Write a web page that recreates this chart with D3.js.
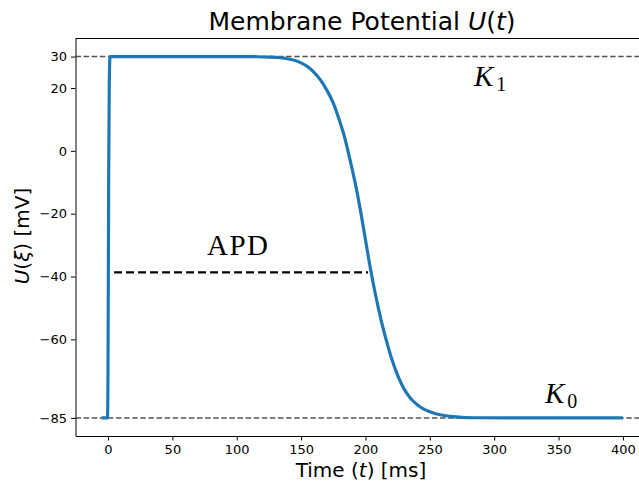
<!DOCTYPE html>
<html>
<head>
<meta charset="utf-8">
<script src="https://cdn.jsdelivr.net/npm/d3@7"></script>
<style>
  body { margin: 0; background: #fff; }
  text { font-family: "DejaVu Sans", sans-serif; }
</style>
</head>
<body>
<div id="chart"></div>
<script>
// membrane potential (t in ms, U in mV)
var timeMs = [-5, -0.4, 0, 0.5, 1, 1.6, 20, 60, 100, 115, 125, 132, 138, 144, 150, 155, 160, 165, 170, 175,
              180, 184, 188, 192, 196, 200, 204, 208, 212, 216, 220, 224, 228, 232, 236, 240,
              245, 250, 258, 266, 275, 290, 310, 340, 370, 400];
var voltage = [-85, -85, -70, -10, 22, 30, 30, 30, 30, 29.95, 29.85, 29.7, 29.4, 28.9, 28.0, 26.8, 25.0, 22.6, 19.3, 15.2,
               9.4, 4.0, -2.9, -10.2, -18.7, -28.3, -37.8, -46.2, -53.6, -60.0, -65.7, -70.4, -74.2, -77.1, -79.2, -80.7,
               -82.1, -83.0, -84.0, -84.5, -84.8, -84.95, -85, -85, -85, -85];

var yTicks = [30, 20, 0, -20, -40, -60, -85];
var xTicks = [0, 50, 100, 150, 200, 250, 300, 350, 400];
var levels = [30, -85];            // K1 and K0 reference lines
var apdStart = 4.7, apdEnd = 202, apdLevel = -38.7;

var width = 639, height = 483;
var margin = {left: 75.5, top: 38.5, right: -10, bottom: 47};

var svg = d3.select("#chart")
    .append("svg")
    .attr("width", width)
    .attr("height", height);

var x = d3.scaleLinear()
    .domain([-25.25, 420.25])
    .range([margin.left, width - margin.right]);
var y = d3.scaleLinear()
    .domain([-90.75, 35.75])
    .range([height - margin.bottom, margin.top]);

svg.append("defs").append("clipPath").attr("id", "plot")
    .append("rect")
    .attr("x", margin.left).attr("y", margin.top)
    .attr("width", width - margin.right - margin.left)
    .attr("height", height - margin.bottom - margin.top);

var plot = svg.append("g").attr("clip-path", "url(#plot)");

// reference lines
plot.selectAll("line.level")
    .data(levels)
    .enter()
    .append("line")
    .attr("class", "level")
    .attr("x1", margin.left)
    .attr("x2", width)
    .attr("y1", (d) => y(d))
    .attr("y2", (d) => y(d))
    .attr("stroke", "#555")
    .attr("stroke-width", 1.4)
    .attr("stroke-dasharray", "5.5,2.6");

// APD marker
plot.append("line")
    .attr("x1", x(apdStart))
    .attr("x2", x(apdEnd))
    .attr("y1", y(apdLevel))
    .attr("y2", y(apdLevel))
    .attr("stroke", "#000")
    .attr("stroke-width", 2.2)
    .attr("stroke-dasharray", "8,4");

var line = d3.line()
    .x((d, i) => x(timeMs[i]))
    .y((d) => y(d))
    .curve(d3.curveMonotoneX);

plot.append("path")
    .datum(voltage)
    .attr("d", line)
    .attr("fill", "none")
    .attr("stroke", "#1f77b4")
    .attr("stroke-width", 3.2)
    .attr("stroke-linejoin", "round");

// axes
var xAxis = svg.append("g")
    .attr("transform", "translate(0," + (height - margin.bottom) + ")")
    .call(d3.axisBottom(x).tickValues(xTicks).tickSizeInner(4.5).tickSizeOuter(0).tickPadding(4)
        .tickFormat(d3.format("d")));
var yAxis = svg.append("g")
    .attr("transform", "translate(" + margin.left + ",0)")
    .call(d3.axisLeft(y).tickValues(yTicks).tickSizeInner(4.5).tickSizeOuter(0).tickPadding(4)
        .tickFormat((d) => d < 0 ? "\u2212" + Math.abs(d) : d));

[xAxis, yAxis].forEach(function(a) {
    a.select(".domain").attr("stroke", "#000").attr("stroke-width", 1);
    a.selectAll(".tick line").attr("stroke", "#000").attr("stroke-width", 1);
    a.selectAll(".tick text").attr("fill", "#000")
        .style("font-family", "DejaVu Sans").style("font-size", "13px");
});

// top spine
svg.append("line")
    .attr("x1", margin.left).attr("x2", width)
    .attr("y1", margin.top).attr("y2", margin.top)
    .attr("stroke", "#000").attr("stroke-width", 1);

// title and labels
var title = svg.append("text")
    .attr("x", 362).attr("y", 30)
    .attr("text-anchor", "middle")
    .style("font-size", "25px");
title.append("tspan").text("Membrane Potential ");
title.append("tspan").style("font-style", "italic").text("U");
title.append("tspan").text("(");
title.append("tspan").style("font-style", "italic").text("t");
title.append("tspan").text(")");

var xl = svg.append("text")
    .attr("x", 361).attr("y", 477)
    .attr("text-anchor", "middle")
    .style("font-size", "20px");
xl.append("tspan").text("Time (");
xl.append("tspan").style("font-style", "italic").text("t");
xl.append("tspan").text(") [ms]");

var yl = svg.append("text")
    .attr("transform", "translate(29,236) rotate(-90)")
    .attr("text-anchor", "middle")
    .style("font-size", "20px");
yl.append("tspan").style("font-style", "italic").text("U");
yl.append("tspan").text("(");
yl.append("tspan").style("font-style", "italic").text("\u03be");
yl.append("tspan").text(") [mV]");

// annotations
svg.append("text")
    .attr("x", 207).attr("y", 255)
    .style("font-family", "Liberation Serif, serif")
    .style("font-size", "29px")
    .style("letter-spacing", "1.5px")
    .text("APD");

function kLabel(px, py, sub) {
    var t = svg.append("text")
        .attr("x", px).attr("y", py)
        .style("font-family", "Liberation Serif, serif")
        .style("font-size", "29px");
    t.append("tspan").style("font-style", "italic").text("K");
    t.append("tspan").attr("dy", 5).attr("dx", 3).style("font-size", "20px").text(sub);
}
kLabel(474, 86, "1");
kLabel(545, 403, "0");
</script>
</body>
</html>
